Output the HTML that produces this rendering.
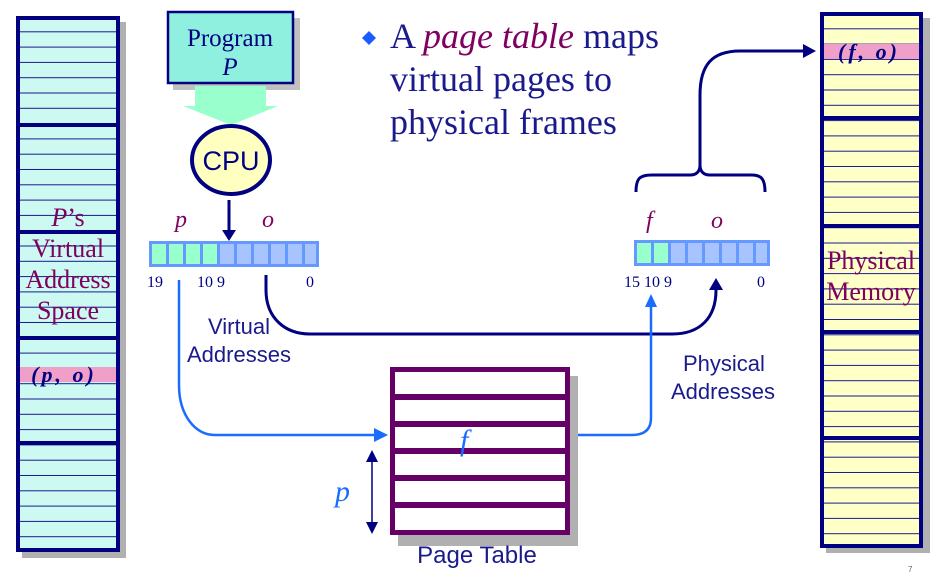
<!DOCTYPE html>
<html><head><meta charset="utf-8"><style>
html,body{margin:0;padding:0;background:#fff;}
svg{display:block;}
.serif{font-family:"Liberation Serif",serif;}
.sans{font-family:"Liberation Sans",sans-serif;}
</style></head><body>
<svg width="934" height="578" viewBox="0 0 934 578" xmlns="http://www.w3.org/2000/svg">
<defs>
<pattern id="lc" patternUnits="userSpaceOnUse" x="0" y="17" width="10" height="15.3">
<rect width="10" height="15.3" fill="#ccfaf2"/><rect y="14.3" width="10" height="1.3" fill="#1a1a8c"/>
</pattern>
<pattern id="rc" patternUnits="userSpaceOnUse" x="0" y="14" width="10" height="15.3">
<rect width="10" height="15.3" fill="#ffffc8"/><rect y="14.3" width="10" height="1.3" fill="#1a1a8c"/>
</pattern>
</defs>

<!-- Left column -->
<rect x="22" y="22" width="104" height="536" fill="#b0b0b0"/>
<rect x="18" y="18" width="100" height="532" fill="url(#lc)"/>
<rect x="18" y="367" width="100" height="15" fill="#f0a0c8"/>
<g fill="#000080">
<rect x="16" y="16" width="104" height="4"/><rect x="16" y="548" width="104" height="4"/>
<rect x="16" y="16" width="4" height="536"/><rect x="116" y="16" width="4" height="536"/>
<rect x="16" y="123" width="104" height="4"/><rect x="16" y="230" width="104" height="4"/>
<rect x="16" y="336" width="104" height="4"/><rect x="16" y="441" width="104" height="4"/>
</g>
<g class="serif" fill="#800060" font-size="26" text-anchor="middle">
<text x="68" y="226" font-style="italic">P<tspan font-style="normal">’s</tspan></text>
<text x="68" y="257">Virtual</text>
<text x="68" y="288">Address</text>
<text x="68" y="319">Space</text>
</g>
<text x="64" y="382" class="serif" font-size="22" font-weight="bold" font-style="italic" fill="#000080" text-anchor="middle" letter-spacing="3">(p, o)</text>

<!-- Right column -->
<rect x="826" y="18" width="104" height="535" fill="#b0b0b0"/>
<rect x="822" y="14" width="98" height="531" fill="url(#rc)"/>
<rect x="822" y="44" width="98" height="15" fill="#f0a0c8"/>
<g fill="#000080">
<rect x="820" y="12" width="103" height="4"/><rect x="820" y="544" width="103" height="4"/>
<rect x="820" y="12" width="4" height="536"/><rect x="919" y="12" width="4" height="536"/>
<rect x="820" y="116" width="103" height="4"/><rect x="820" y="224" width="103" height="4"/>
<rect x="820" y="330" width="103" height="4"/><rect x="820" y="436" width="103" height="4"/>
</g>
<text x="869" y="59" class="serif" font-size="22" font-weight="bold" font-style="italic" fill="#000080" text-anchor="middle" letter-spacing="3">(f, o)</text>
<g class="serif" fill="#800060" font-size="26" text-anchor="middle">
<text x="871" y="269">Physical</text>
<text x="871" y="300">Memory</text>
</g>

<!-- Program box -->
<rect x="173" y="18" width="127" height="72" fill="#c0c0c0"/>
<rect x="168" y="12" width="125" height="71" fill="#90f0e0" stroke="#000080" stroke-width="2.5"/>
<text x="230" y="46" class="serif" font-size="25" fill="#000080" text-anchor="middle">Program</text>
<text x="230" y="75" class="serif" font-size="25" font-style="italic" fill="#000080" text-anchor="middle">P</text>
<path d="M195,86 H266 V106 H278 L231,125 L183,106 H195 Z" fill="#99ffcc"/>

<!-- CPU -->
<ellipse cx="231" cy="160" rx="39" ry="34" fill="#ffffc0" stroke="#000080" stroke-width="4"/>
<text x="231" y="170" class="sans" font-size="27" fill="#000080" text-anchor="middle">CPU</text>
<line x1="229" y1="200" x2="229" y2="232" stroke="#000080" stroke-width="3"/>
<path d="M222,230 L236,230 L229,241 Z" fill="#000080"/>

<!-- Text -->
<path d="M369,31 L376,38 L369,45 L362,38 Z" fill="#1a5cff"/>
<g class="serif" font-size="36" fill="#1a1a8c">
<text x="390" y="48">A <tspan font-style="italic" fill="#800060">page table</tspan> maps</text>
<text x="390" y="91">virtual pages to</text>
<text x="390" y="134">physical frames</text>
</g>

<!-- Virtual address bar -->
<rect x="149" y="241" width="170" height="26" fill="#6699ff"/>
<g fill="#99ffcc">
<rect x="152" y="244" width="14" height="20"/><rect x="169" y="244" width="14" height="20"/>
<rect x="186" y="244" width="14" height="20"/><rect x="203" y="244" width="14" height="20"/>
</g>
<g fill="#a8c4ff">
<rect x="220" y="244" width="14" height="20"/><rect x="237" y="244" width="14" height="20"/>
<rect x="254" y="244" width="14" height="20"/><rect x="271" y="244" width="14" height="20"/>
<rect x="288" y="244" width="14" height="20"/><rect x="305" y="244" width="11" height="20"/>
</g>
<g class="serif" font-size="24" font-style="italic" fill="#800060">
<text x="175" y="227">p</text><text x="262" y="227">o</text>
</g>
<g class="serif" font-size="16" fill="#000080">
<text x="147" y="287">19</text><text x="197" y="287">10 9</text><text x="306" y="287">0</text>
</g>

<!-- Physical address bar -->
<rect x="634" y="240" width="136" height="26" fill="#6699ff"/>
<g fill="#99ffcc"><rect x="637" y="243" width="14" height="20"/><rect x="654" y="243" width="14" height="20"/></g>
<g fill="#a8c4ff">
<rect x="671" y="243" width="14" height="20"/><rect x="688" y="243" width="14" height="20"/>
<rect x="705" y="243" width="14" height="20"/><rect x="722" y="243" width="14" height="20"/>
<rect x="739" y="243" width="14" height="20"/><rect x="756" y="243" width="11" height="20"/>
</g>
<g class="serif" font-size="24" font-style="italic" fill="#800060">
<text x="646" y="228">f</text><text x="711" y="228">o</text>
</g>
<g class="serif" font-size="16" fill="#000080">
<text x="624" y="287">15 10 9</text><text x="757" y="287">0</text>
</g>

<!-- Brace and arrow to memory -->
<path d="M636,192 C636,178 640,175 652,175 H690 C696,175 700,172 700,165 C700,172 704,175 710,175 H752 C762,175 765,180 765,192" fill="none" stroke="#000080" stroke-width="3"/>
<path d="M700,165 V95 C700,65 712,51 740,51 H806" fill="none" stroke="#000080" stroke-width="3"/>
<path d="M803,44 L816,51 L803,58 Z" fill="#000080"/>

<!-- Offset curve -->
<path d="M266,275 V290 C266,318 285,334 310,334 H672 C700,334 716,318 716,290" fill="none" stroke="#000080" stroke-width="3"/>
<path d="M709,290 L716,278 L723,290 Z" fill="#000080"/>

<!-- Blue virtual path -->
<path d="M179,280 V385 C179,415 195,435 215,435 H378" fill="none" stroke="#1a6cff" stroke-width="2.5"/>
<path d="M374,428 L388,435 L374,442 Z" fill="#1a6cff"/>

<!-- Blue physical path -->
<path d="M572,435 H632 C646,435 651,428 651,418 V305" fill="none" stroke="#1a6cff" stroke-width="2.5"/>
<path d="M645,307 L651,294 L657,307 Z" fill="#1a6cff"/>

<!-- Page table -->
<rect x="398" y="376" width="180" height="170" fill="#b0b0b0"/>
<rect x="390" y="367" width="180" height="168" fill="#fff"/>
<g fill="#660066">
<rect x="390" y="367" width="180" height="5"/><rect x="390" y="530" width="180" height="5"/>
<rect x="390" y="367" width="5" height="168"/><rect x="565" y="367" width="5" height="168"/>
<rect x="390" y="394" width="180" height="6"/><rect x="390" y="421" width="180" height="6"/>
<rect x="390" y="448" width="180" height="6"/><rect x="390" y="475" width="180" height="6"/>
<rect x="390" y="502" width="180" height="6"/>
</g>
<text x="460" y="450" class="serif" font-size="30" font-style="italic" fill="#1a6cff">f</text>
<line x1="372" y1="458" x2="372" y2="526" stroke="#000080" stroke-width="1.5"/>
<path d="M366,462 L372,450 L378,462 Z" fill="#000080"/>
<path d="M366,522 L372,534 L378,522 Z" fill="#000080"/>
<text x="335" y="501" class="serif" font-size="30" font-style="italic" fill="#1a6cff">p</text>
<text x="477" y="563" class="sans" font-size="24" fill="#1a1a8c" text-anchor="middle">Page Table</text>

<!-- labels -->
<g class="sans" font-size="22" fill="#1a1a8c">
<text x="208" y="334">Virtual</text>
<text x="187" y="362">Addresses</text>
<text x="683" y="371">Physical</text>
<text x="671" y="399">Addresses</text>
</g>
<text x="908" y="572" class="sans" font-size="8" fill="#666">7</text>
</svg>
</body></html>
